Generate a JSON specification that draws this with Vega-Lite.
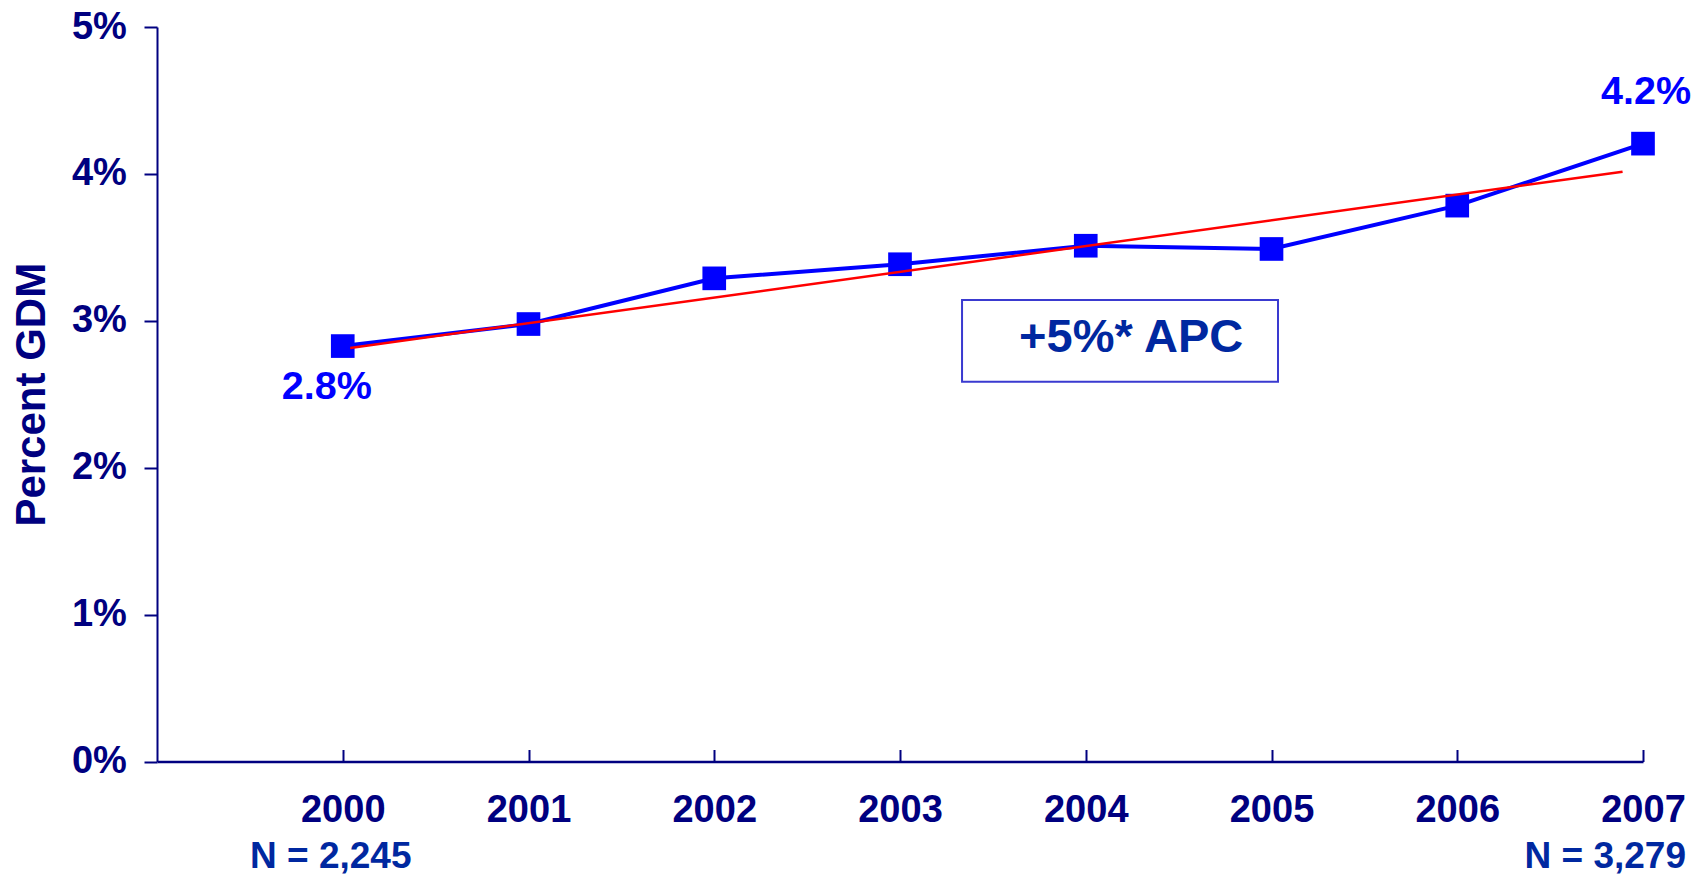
{
  "$schema": "https://vega.github.io/schema/vega-lite/v6.json",
  "width": 1486,
  "height": 734.5,
  "autosize": {"type": "none"},
  "padding": {"left": 157, "top": 27, "right": 62, "bottom": 114.5},
  "background": "white",
  "config": {"view": {"stroke": null}, "font": "Liberation Sans"},
  "datasets": {
    "gdm": [
      {"year": 2000, "pct": 2.828},
      {"year": 2001, "pct": 2.978},
      {"year": 2002, "pct": 3.289},
      {"year": 2003, "pct": 3.385},
      {"year": 2004, "pct": 3.511},
      {"year": 2005, "pct": 3.489},
      {"year": 2006, "pct": 3.784},
      {"year": 2007, "pct": 4.206}
    ],
    "trend": [
      {"year": 2000.04, "pct": 2.815},
      {"year": 2006.89, "pct": 4.015}
    ],
    "note": [
      {"x1": 2003.334, "x2": 2005.035, "y1": 3.142, "y2": 2.585, "tx": 2003.641, "ty": 2.883, "text": "+5%* APC"}
    ],
    "nlab": [
      {"year": 2000, "label": "N = 2,245"},
      {"year": 2007, "label": "N = 3,279"}
    ]
  },
  "layer": [
    {
      "data": {"name": "gdm"},
      "mark": {"type": "line", "color": "#0000FF", "strokeWidth": 4},
      "encoding": {
        "x": {
          "field": "year", "type": "quantitative",
          "scale": {"domain": [1999, 2007], "nice": false, "zero": false},
          "axis": {
            "values": [2000, 2001, 2002, 2003, 2004, 2005, 2006, 2007],
            "format": "d", "title": null, "grid": false,
            "labelFontSize": 38, "labelFontWeight": "bold", "labelColor": "#000080",
            "labelFont": "Liberation Sans",
            "labelBaseline": "middle", "labelPadding": 60.5,
            "labelFlush": false, "labelOverlap": false,
            "domainColor": "#000080", "domainWidth": 2.5,
            "tickColor": "#000080", "tickWidth": 2, "tickSize": -12
          }
        },
        "y": {
          "field": "pct", "type": "quantitative",
          "scale": {"domain": [0, 5], "nice": false},
          "axis": {
            "values": [0, 1, 2, 3, 4, 5],
            "labelExpr": "datum.value + '%'",
            "title": "Percent GDM", "grid": false,
            "titleFont": "Liberation Sans", "titleFontSize": 42, "titleFontWeight": "bold",
            "titleColor": "#000080", "titleX": -126, "titleBaseline": "middle",
            "labelFontSize": 38, "labelFontWeight": "bold", "labelColor": "#000080",
            "labelFont": "Liberation Sans",
            "labelBaseline": "middle", "labelPadding": 17.6,
            "labelFlush": false, "labelOverlap": false,
            "domainColor": "#000080", "domainWidth": 2,
            "tickColor": "#000080", "tickWidth": 2, "tickSize": 13
          }
        }
      }
    },
    {
      "data": {"name": "gdm"},
      "mark": {"type": "point", "shape": "square", "filled": true, "color": "#0000FF", "size": 560, "opacity": 1},
      "encoding": {
        "x": {"field": "year", "type": "quantitative"},
        "y": {"field": "pct", "type": "quantitative"}
      }
    },
    {
      "data": {"name": "note"},
      "mark": {"type": "rect", "fill": "white", "fillOpacity": 0, "stroke": "#3a3ad0", "strokeWidth": 2},
      "encoding": {
        "x": {"field": "x1", "type": "quantitative"},
        "x2": {"field": "x2"},
        "y": {"field": "y1", "type": "quantitative"},
        "y2": {"field": "y2"}
      }
    },
    {
      "data": {"name": "note"},
      "mark": {"type": "text", "align": "left", "baseline": "middle", "fontSize": 47, "fontWeight": "bold", "color": "#0028A0", "font": "Liberation Sans"},
      "encoding": {
        "x": {"field": "tx", "type": "quantitative"},
        "y": {"field": "ty", "type": "quantitative"},
        "text": {"field": "text"}
      }
    },
    {
      "data": {"name": "trend"},
      "mark": {"type": "line", "color": "#FF0000", "strokeWidth": 2.5},
      "encoding": {
        "x": {"field": "year", "type": "quantitative"},
        "y": {"field": "pct", "type": "quantitative"}
      }
    },
    {
      "data": {"name": "gdm"},
      "transform": [{"filter": "datum.year == 2000"}],
      "mark": {"type": "text", "align": "center", "baseline": "middle", "fontSize": 39.5, "fontWeight": "bold", "color": "#0000FF", "dx": -16, "dy": 41, "font": "Liberation Sans"},
      "encoding": {
        "x": {"field": "year", "type": "quantitative"},
        "y": {"field": "pct", "type": "quantitative"},
        "text": {"value": "2.8%"}
      }
    },
    {
      "data": {"name": "gdm"},
      "transform": [{"filter": "datum.year == 2007"}],
      "mark": {"type": "text", "align": "center", "baseline": "middle", "fontSize": 39.5, "fontWeight": "bold", "color": "#0000FF", "dx": 3, "dy": -52, "font": "Liberation Sans"},
      "encoding": {
        "x": {"field": "year", "type": "quantitative"},
        "y": {"field": "pct", "type": "quantitative"},
        "text": {"value": "4.2%"}
      }
    },
    {
      "data": {"name": "nlab"},
      "transform": [{"filter": "datum.year == 2000"}],
      "mark": {"type": "text", "align": "center", "baseline": "middle", "fontSize": 37, "fontWeight": "bold", "color": "#0028A0", "dx": -12, "font": "Liberation Sans"},
      "encoding": {
        "x": {"field": "year", "type": "quantitative"},
        "y": {"datum": -0.65, "type": "quantitative"},
        "text": {"field": "label"}
      }
    },
    {
      "data": {"name": "nlab"},
      "transform": [{"filter": "datum.year == 2007"}],
      "mark": {"type": "text", "align": "right", "baseline": "middle", "fontSize": 37, "fontWeight": "bold", "color": "#0028A0", "dx": 43, "font": "Liberation Sans"},
      "encoding": {
        "x": {"field": "year", "type": "quantitative"},
        "y": {"datum": -0.65, "type": "quantitative"},
        "text": {"field": "label"}
      }
    }
  ]
}
